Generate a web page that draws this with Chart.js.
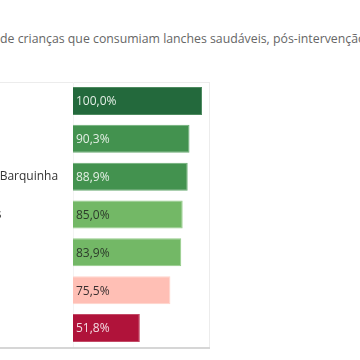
<!DOCTYPE html>
<html>
<head>
<meta charset="utf-8">
<script src="https://cdn.jsdelivr.net/npm/chart.js@4.4.1/dist/chart.umd.min.js"></script>
<style>
  html, body { margin: 0; padding: 0; background: #fff; }
  body { width: 360px; height: 360px; overflow: hidden; position: relative; }
  #titulo { position: absolute; top: 30px; white-space: nowrap; font: 12.3px "Open Sans", sans-serif; color: #666; }
  #wrap { position: absolute; left: -100px; top: 0; width: 460px; height: 360px; }
</style>
</head>
<body>
<div id="titulo"><span id="pre">Percentagem </span>de crianças que consumiam lanches saudáveis, pós-intervenção</div>
<div id="wrap"><canvas id="grafico"></canvas></div>
<script>
// dados
const municipios = ["Sardoal", "Constância", "Vila Nova da Barquinha", "Torres Novas", "Tomar", "Abrantes", "Mação"];
const percentagens = [100.0, 90.3, 88.9, 85.0, 83.9, 75.5, 51.8];
const coresBarras = ["#23693c", "#43924f", "#43924f", "#73b866", "#73b866", "#ffbfb5", "#b0133a"];
const coresBorda = ["#4d8a5f", "#6aad74", "#6aad74", "#93cc88", "#93cc88", "#ffd3cc", "#c34a66"];
const coresTexto = ["#e3eee5", "#e3efe4", "#e3efe4", "#2d3b2b", "#2d3b2b", "#3a3030", "#f3dbe2"];
const eixoMax = 105.4;
const fonte = '"Open Sans", sans-serif';

// título começa fora do ecrã, como no recorte
const titulo = document.getElementById("titulo");
titulo.style.left = -document.getElementById("pre").offsetWidth + "px";

// linhas da moldura (estilo Tableau)
const moldura = {
    id: "moldura",
    beforeDatasetsDraw(chart) {
        const { ctx, chartArea } = chart;
        ctx.save();
        ctx.strokeStyle = "#ececec";
        ctx.lineWidth = 1;
        ctx.beginPath();
        ctx.moveTo(0, chartArea.top + 0.5);
        ctx.lineTo(chartArea.right + 1, chartArea.top + 0.5);
        ctx.moveTo(chartArea.right + 0.5, chartArea.top);
        ctx.lineTo(chartArea.right + 0.5, chartArea.bottom);
        ctx.stroke();
        ctx.strokeStyle = "#f3f3f3";
        ctx.beginPath();
        ctx.moveTo(chartArea.left + 0.5, chartArea.top);
        ctx.lineTo(chartArea.left + 0.5, chartArea.bottom);
        ctx.stroke();
        ctx.strokeStyle = "#d6d6d6";
        ctx.lineWidth = 2;
        ctx.beginPath();
        ctx.moveTo(0, chartArea.bottom + 1);
        ctx.lineTo(chartArea.right + 1, chartArea.bottom + 1);
        ctx.stroke();
        ctx.restore();
    }
};

// rótulos de valor dentro das barras
const rotulos = {
    id: "rotulos",
    afterDatasetsDraw(chart) {
        const { ctx } = chart;
        const meta = chart.getDatasetMeta(0);
        ctx.save();
        ctx.font = "12px " + fonte;
        ctx.textAlign = "left";
        ctx.textBaseline = "middle";
        meta.data.forEach(function (bar, i) {
            ctx.fillStyle = coresTexto[i];
            const txt = percentagens[i].toFixed(1).replace(".", ",") + "%";
            ctx.fillText(txt, bar.base + 3, bar.y + 1);
        });
        ctx.restore();
    }
};

new Chart(document.getElementById("grafico"), {
    type: "bar",
    data: {
        labels: municipios,
        datasets: [{
            data: percentagens,
            backgroundColor: coresBarras,
            borderColor: coresBorda,
            borderWidth: 1,
            barPercentage: 0.74,
            categoryPercentage: 1
        }]
    },
    options: {
        indexAxis: "y",
        responsive: true,
        maintainAspectRatio: false,
        animation: false,
        layout: { padding: { left: 27.5, right: 151, top: 82, bottom: 13 } },
        plugins: {
            legend: { display: false },
            tooltip: { enabled: false },
            title: { display: false }
        },
        scales: {
            x: { display: false, min: 0, max: eixoMax },
            y: {
                grid: { display: false },
                border: { display: false },
                ticks: {
                    crossAlign: "far",
                    color: "#333",
                    padding: 0,
                    font: { family: fonte, size: 12 }
                },
                afterFit: function (scale) { scale.width = 145.5; }
            }
        }
    },
    plugins: [moldura, rotulos]
});
</script>
</body>
</html>
